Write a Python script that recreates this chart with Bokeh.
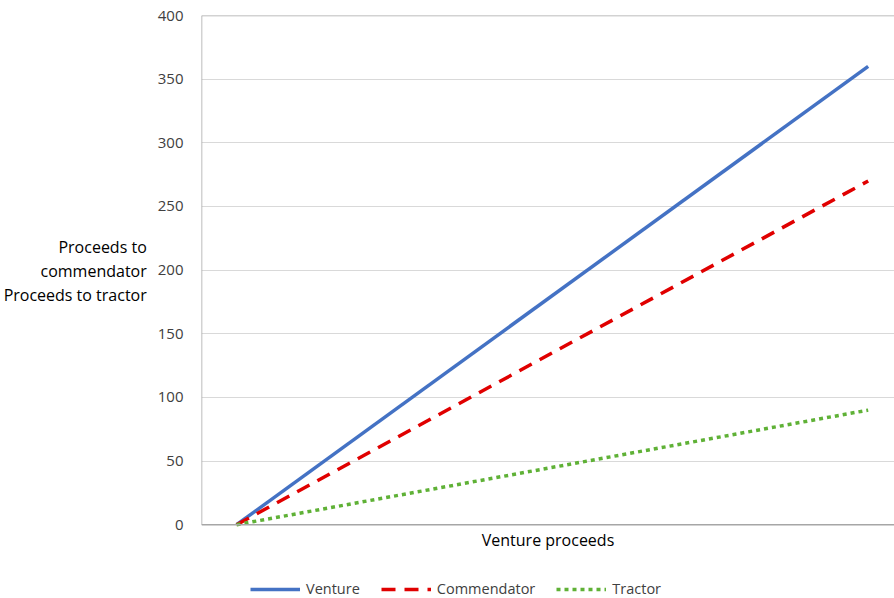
from bokeh.plotting import figure
from bokeh.models import (Range1d, Legend, LegendItem, FixedTicker, Label, Segment,
                          ColumnDataSource)
from bokeh.embed import file_html
from bokeh.resources import INLINE

# Venture proceeds and how they are split between the partners
venture_proceeds = [0, 360]
venture = [0, 360]
commendator = [0, 270]
tractor = [0, 90]
y_ticks = [0, 50, 100, 150, 200, 250, 300, 350, 400]

FONT = "Open Sans"
TEXT = "#404040"
AXIS = "#A6A6A6"
X_MIN, X_MAX = -20, 375
Y_MIN = -58  # room below zero for the axis title and legend

p = figure(width=894, height=598, output_backend="svg", toolbar_location=None,
           x_range=Range1d(X_MIN, X_MAX), y_range=Range1d(Y_MIN, 400),
           min_border_left=200, min_border_right=0, min_border_top=15, min_border_bottom=0)
p.outline_line_color = None
p.background_fill_color = "white"
p.border_fill_color = "white"

r1 = p.line(venture_proceeds, venture, line_color="#4472C4", line_width=3.5)
r2 = p.line(venture_proceeds, commendator, line_color="#E00000", line_width=3.5, line_dash="14 9")
r3 = p.line(venture_proceeds, tractor, line_color="#5FB136", line_width=3.5, line_dash="4 4")

# y axis: labels only, axis line drawn from 0 to 400
p.yaxis.ticker = FixedTicker(ticks=y_ticks)
p.yaxis.major_tick_line_color = None
p.yaxis.minor_tick_line_color = None
p.yaxis.axis_line_color = None
p.yaxis.major_label_text_font = FONT
p.yaxis.major_label_text_font_size = "15px"
p.yaxis.major_label_text_color = TEXT
p.yaxis.major_label_standoff = 12
# trailing empty lines lift the title so it sits beside the 200 tick
p.yaxis.axis_label = "Proceeds to\ncommendator\nProceeds to tractor\n\n\n"
p.yaxis.axis_label_orientation = "horizontal"
p.yaxis.axis_label_text_align = "center"
p.yaxis.axis_label_text_font = FONT
p.yaxis.axis_label_text_font_style = "normal"
p.yaxis.axis_label_text_font_size = "16px"
p.yaxis.axis_label_text_color = "#000000"
p.yaxis.axis_label_text_line_height = 1.1
p.yaxis.axis_label_standoff = 8
p.xaxis.visible = False

p.xgrid.grid_line_color = None
p.ygrid.grid_line_color = "#D9D9D9"
p.ygrid.grid_line_width = 1.2

axes = ColumnDataSource(dict(x0=[X_MIN, X_MIN, X_MIN], y0=[0, 0, 400],
                             x1=[X_MIN, X_MAX, X_MAX], y1=[400, 0, 400]))
p.add_glyph(axes, Segment(x0="x0", y0="y0", x1="x1", y1="y1", line_color=AXIS, line_width=1.5))

p.add_layout(Label(x=(X_MIN + X_MAX) / 2, y=0, y_offset=-4, text="Venture proceeds",
                   text_align="center", text_baseline="top", text_font=FONT,
                   text_font_size="16px", text_color="#000000"))

legend = Legend(items=[LegendItem(label="Venture", renderers=[r1]),
                       LegendItem(label="Commendator", renderers=[r2]),
                       LegendItem(label="Tractor", renderers=[r3])],
                orientation="horizontal", location=(49, 0),
                glyph_width=50, glyph_height=14, spacing=21, label_standoff=6,
                label_text_font=FONT, label_text_font_size="14.5px", label_text_color=TEXT,
                border_line_color=None, background_fill_alpha=0,
                margin=0, padding=4)
p.add_layout(legend)

open("out.html", "w").write(file_html(p, INLINE))
